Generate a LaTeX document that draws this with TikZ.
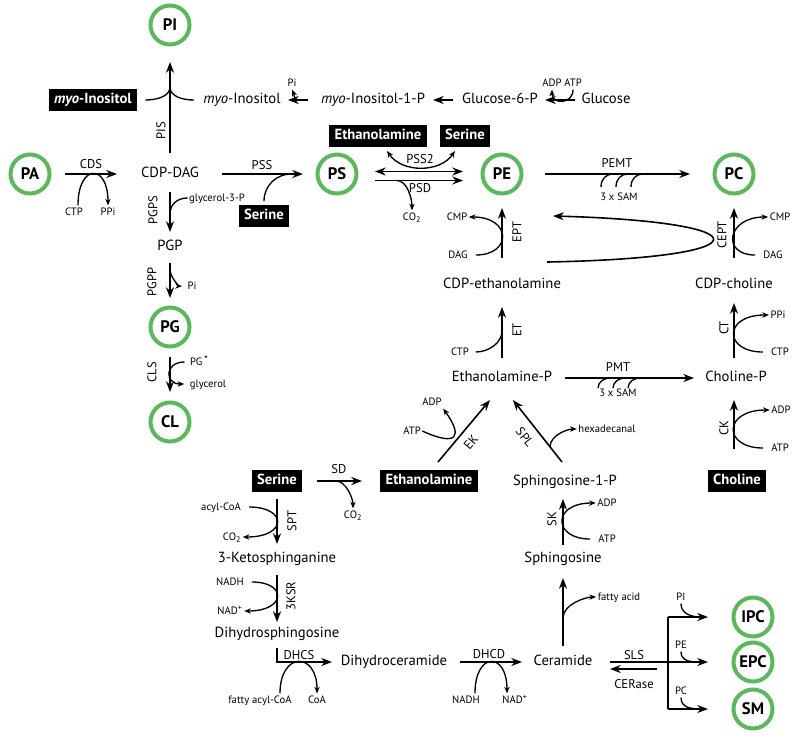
\documentclass[tikz,border=0pt]{standalone}
\usepackage{fontspec}
\setmainfont{PT Sans}
\usepackage{tikz}
\usetikzlibrary{arrows.meta,calc}
\definecolor{poolgreen}{RGB}{92,184,92}
\tikzset{
  pool/.style={circle, draw=poolgreen, line width=3pt, minimum size=29.25pt, inner sep=0pt, font=\fontsize{12.5}{14}\selectfont\bfseries},
  met/.style={inner sep=1pt, text height=7.7pt, text depth=2.2pt, font=\fontsize{11}{13}\selectfont},
  extbox/.style={fill=black, text=white, inner xsep=4pt, inner ysep=0pt, minimum height=16pt, text height=8pt, text depth=2.3pt, font=\fontsize{11}{13}\selectfont\bfseries},
  enz/.style={inner sep=1pt, font=\fontsize{9.5}{11}\selectfont},
  cof/.style={inner sep=1pt, text height=6pt, text depth=1.5pt, font=\fontsize{8}{9.5}\selectfont},
  arr/.style={line width=1.2pt, -{Stealth[length=8pt,width=6pt,inset=2.5pt]}},
  arrboth/.style={line width=1.2pt, {Stealth[length=8pt,width=6pt,inset=2.5pt]}-{Stealth[length=8pt,width=6pt,inset=2.5pt]}},
  side/.style={line width=1pt, -{Stealth[length=5pt,width=4pt,inset=1.5pt]}},
  sideboth/.style={line width=1pt, {Stealth[length=5pt,width=4pt,inset=1.5pt]}-{Stealth[length=5pt,width=4pt,inset=1.5pt]}},
  hook/.style={line width=1pt},
}
\begin{document}
\begin{tikzpicture}[x=0.75pt,y=0.75pt,yscale=-1,xscale=1]
\useasboundingbox (0,0) rectangle (800,739);
% Lipid pools
\node[pool] (PI) at (170,25) {PI};
\node[pool] (PA) at (30,174) {PA};
\node[pool] (PS) at (337,174) {PS};
\node[pool] (PE) at (502,174) {PE};
\node[pool] (PC) at (734,174) {PC};
\node[pool] (PG) at (170,327) {PG};
\node[pool] (CL) at (170,422) {CL};
\node[pool] (IPC) at (753,617) {IPC};
\node[pool] (EPC) at (753,662) {EPC};
\node[pool] (SM) at (753,709) {SM};
% Metabolites
\node[met] (cdpdag) at (170,174) {CDP-DAG};
\node[met] (pgp) at (170,247) {PGP};
\node[met] (ino) at (242,100) {\textit{myo}-Inositol};
\node[met] (inop) at (373,100) {\textit{myo}-Inositol-1-P};
\node[met] (g6p) at (500,100) {Glucose-6-P};
\node[met] (glc) at (606,100) {Glucose};
\node[met] (cdpetn) at (502,285) {CDP-ethanolamine};
\node[met] (cdpcho) at (734,285) {CDP-choline};
\node[met] (etnp) at (502,378) {Ethanolamine-P};
\node[met] (chop) at (736,378) {Choline-P};
\node[met] (s1p) at (565,482) {Sphingosine-1-P};
\node[met] (sph) at (563,559) {Sphingosine};
\node[met] (cer) at (563,662) {Ceramide};
\node[met] (dhcer) at (394,662) {Dihydroceramide};
\node[met] (dhsph) at (277,634) {Dihydrosphingosine};
\node[met] (ksph) at (277,559) {3-Ketosphinganine};
% Black boxes
\node[extbox] (inobox) at (93,100) {\textit{myo}-Inositol};
\node[extbox] (serA) at (264,216) {Serine};
\node[extbox] (etnA) at (378,136) {Ethanolamine};
\node[extbox] (serB) at (465,136) {Serine};
\node[extbox] (serC) at (277,481) {Serine};
\node[extbox] (etnC) at (429,481) {Ethanolamine};
\node[extbox] (choC) at (737,481) {Choline};
% Enzymes
\node[enz] (CDS) at (91,164) {CDS};
\node[enz] (PSS) at (262,165) {PSS};
\node[enz, rotate=90] (PIS) at (161,131) {PIS};
\node[enz, rotate=90] (PGPS) at (153,210) {PGPS};
\node[enz, rotate=90] (PGPP) at (152,282) {PGPP};
\node[enz, rotate=90] (CLS) at (152,372) {CLS};
\node[enz] (PSStwo) at (420,159) {PSS2};
\node[enz] (PSD) at (420,188) {PSD};
\node[enz] (PEMT) at (617,163) {PEMT};
\node[enz, rotate=90] (EPT) at (517,232) {EPT};
\node[enz, rotate=90] (CEPT) at (722,235) {CEPT};
\node[enz, rotate=90] (ET) at (517,330) {ET};
\node[enz, rotate=90] (CT) at (724,328) {CT};
\node[enz] (PMT) at (618,367) {PMT};
\node[enz, rotate=90] (CK) at (724,428) {CK};
\node[enz, rotate=50] (EK) at (471,442) {EK};
\node[enz, rotate=-52] (SPL) at (525,437) {SPL};
\node[enz, rotate=90] (SK) at (552,519) {SK};
\node[enz] (SD) at (339,469) {SD};
\node[enz, rotate=90] (SPT) at (292,521) {SPT};
\node[enz, rotate=90] (KSR) at (291,596) {3KSR};
\node[enz] (DHCS) at (299,655) {DHCS};
\node[enz] (DHCD) at (489,654) {DHCD};
\node[enz] (SLS) at (634,655) {SLS};
\node[enz] (CERase) at (634,684) {CERase};
% Cofactors
\node[cof] (ctp1) at (74,212) {CTP};
\node[cof] (ppi1) at (108,212) {PPi};
\node[cof] (glyc1) at (217,198) {glycerol-3-P};
\node[cof] (pi2) at (192,286) {Pi};
\node[cof] (pgs) at (199,362) {PG\,\raisebox{1.5pt}{*}};
\node[cof] (glyc2) at (208,384) {glycerol};
\node[cof] (pi1) at (292,83) {Pi};
\node[cof] (adp1) at (552,83) {ADP};
\node[cof] (atp1) at (573,83) {ATP};
\node[cof] (co2a) at (412,217) {CO\textsubscript{2}};
\node[cof] (sam1) at (619,197) {3 x SAM};
\node[cof] (cmp1) at (457,217) {CMP};
\node[cof] (dag1) at (458,255) {DAG};
\node[cof] (cmp2) at (780,217) {CMP};
\node[cof] (dag2) at (773,255) {DAG};
\node[cof] (ctp2) at (460,352) {CTP};
\node[cof] (ppi2) at (778,315) {PPi};
\node[cof] (ctp3) at (780,352) {CTP};
\node[cof] (sam2) at (618,393) {3 x SAM};
\node[cof] (adp2) at (781,410) {ADP};
\node[cof] (atp2) at (780,448) {ATP};
\node[cof] (adp3) at (432,402) {ADP};
\node[cof] (atp3) at (412,431) {ATP};
\node[cof] (hexa) at (607,429) {hexadecanal};
\node[cof] (adp4) at (607,503) {ADP};
\node[cof] (atp4) at (607,539) {ATP};
\node[cof] (fa) at (619,597) {fatty acid};
\node[cof] (acoa) at (221,507) {acyl-CoA};
\node[cof] (co2b) at (232,537) {CO\textsubscript{2}};
\node[cof] (nadh1) at (230,582) {NADH};
\node[cof] (nadp1) at (230,611) {NAD\textsuperscript{+}};
\node[cof] (co2c) at (353,515) {CO\textsubscript{2}};
\node[cof] (fac) at (260,700) {fatty acyl-CoA};
\node[cof] (coa) at (317,700) {CoA};
\node[cof] (nadh2) at (466,700) {NADH};
\node[cof] (nadp2) at (515,700) {NAD\textsuperscript{+}};
\node[cof] (pil) at (681,597) {PI};
\node[cof] (pel) at (681,645) {PE};
\node[cof] (pcl) at (681,691) {PC};
% Junction points
\coordinate (pisJ) at (170,87);
\coordinate (pssJ) at (291,174);
\coordinate (pgpsJ) at (170,214);
\coordinate (pgppJ) at (170,269);
\coordinate (piJ) at (301,100);
\coordinate (psdJ) at (397,180.5);
\coordinate (etJ) at (502,331);
\coordinate (splJ) at (550,447);
\coordinate (faJ) at (563,618);
\coordinate (sdJ) at (336,481);
\coordinate (br) at (668,662);
\coordinate (ipcJ) at (701,617);
\coordinate (epcJ) at (701,662);
\coordinate (smJ) at (701,709);
\coordinate (loopS) at (547,262);
\coordinate (loopE) at (553,216);
% Reactions
\draw[arr, shorten <=26.25pt, shorten >=39.75pt] (PA.center) -- (cdpdag.center);
\draw[arr, shorten <=15.75pt, shorten >=27.75pt] (cdpdag.center) -- (PI.center);
\draw[arr, shorten <=39pt, shorten >=25.5pt] (cdpdag.center) -- (PS.center);
\draw[arr, shorten <=13.5pt, shorten >=11.25pt] (cdpdag.center) -- (pgp.center);
\draw[arr, shorten <=12pt, shorten >=21.75pt] (pgp.center) -- (PG.center);
\draw[arr, shorten <=22.5pt, shorten >=22.5pt] (PG.center) -- (CL.center);
\draw[arr, shorten <=48.75pt, shorten >=34.5pt] (inop.center) -- (ino.center);
\draw[arr, shorten <=35.25pt, shorten >=45pt] (g6p.center) -- (inop.center);
\draw[arr, shorten <=23.25pt, shorten >=33.75pt] (glc.center) -- (g6p.center);
\draw[arrboth, shorten <=28.5pt, shorten >=29.25pt] ($(PS.center)+(0,-2.5)$) -- ($(PE.center)+(0,-2.5)$);
\draw[arr, shorten <=28.5pt, shorten >=29.25pt] ($(PS.center)+(0,6.5)$) -- ($(PE.center)+(0,6.5)$);
\draw[arr, shorten <=32.25pt, shorten >=33pt] (PE.center) -- (PC.center);
\draw[arr, shorten <=20.25pt, shorten >=25.5pt] (cdpetn.center) -- (PE.center);
\draw[arr, shorten <=20.25pt, shorten >=25.5pt] (cdpcho.center) -- (PC.center);
\draw[arr, shorten <=15pt, shorten >=16.5pt] (etnp.center) -- (cdpetn.center);
\draw[arr, shorten <=15pt, shorten >=13.5pt] (chop -| cdpcho) -- (cdpcho.center);
\draw[arr, shorten <=47.25pt, shorten >=31.5pt] (etnp.center) -- (chop.center);
\draw[arr, shorten <=24pt, shorten >=16.5pt] (choC -| cdpcho) -- (chop -| cdpcho);
\draw[arr] ($(etnC.center)+(9,-19)$) -- ($(etnp.center)+(-12,22)$);
\draw[arr] ($(s1p.center)+(-3,-20)$) -- ($(etnp.center)+(11,22)$);
\draw[arr, shorten <=10.5pt, shorten >=12.75pt] (sph.center) -- (sph |- s1p);
\draw[arr, shorten <=12pt, shorten >=14.25pt] (cer.center) -- (sph.center);
\draw[arr, shorten <=49.5pt, shorten >=30.75pt] (dhcer.center) -- (cer.center);
\draw[arr, shorten <=10.5pt, shorten >=46.5pt] (dhsph.center) |- (dhcer.center);
\draw[arr, shorten <=13.5pt, shorten >=11.25pt] (serC.center) -- (ksph.center);
\draw[arr, shorten <=12pt, shorten >=9pt] (ksph.center) -- (dhsph.center);
\draw[arr, shorten <=30pt, shorten >=50.25pt] (serC.center) -- (etnC.center);
\draw[arr, shorten <=35.25pt, shorten >=33.75pt] (cer.center) -- (EPC.center);
\draw[arr] ($(cer.center)+(94,7)$) -- ($(cer.center)+(47,7)$);
\draw[hook, line width=1.2pt] (br |- IPC) -- (br |- SM);
\draw[arr, shorten >=33.75pt] (br |- IPC) -- (IPC.center);
\draw[arr, shorten >=33.75pt] (br |- SM) -- (SM.center);
% Loop back to PE
\draw[arr] (loopS) .. controls (767,258) and (767,222) .. (loopE);
% Side substrates and products
\draw[side] ($(ctp1.north)+(4,0)$) .. controls +(0,-42) and +(0,-42) .. (ppi1.north);
\draw[hook, shorten <=3pt] (serA.north) .. controls +(0,-20) and +(-14,0) .. (pssJ);
\draw[hook, shorten <=6pt] (inobox.east) .. controls +(18,0) and +(0,10) .. (pisJ);
\draw[hook, shorten <=6pt] (ino.west) .. controls +(-18,0) and +(0,10) .. (pisJ);
\draw[hook] (glyc1.west) .. controls +(-10,0) and +(0,-10) .. (pgpsJ);
\draw[side, shorten >=3pt] (pgppJ) .. controls +(0,9) and +(-6,0) .. (pi2.west);
\draw[side, shorten <=3pt, shorten >=3pt] (pgs.west) .. controls +(-24,0) and +(-24,0) .. (glyc2.west);
\draw[side] (piJ) .. controls +(-8,0) and +(3,7) .. (pi1.south);
\draw[side] (atp1.south) .. controls +(0,15) and +(0,15) .. (adp1.south);
\draw[side] (psdJ) .. controls +(10,0) and +(0,-12) .. (co2a.north);
\draw[sideboth] ($(etnA.south)+(9,4)$) .. controls +(15,22) and +(-15,22) .. ($(serB.south)+(-10,4)$);
\foreach \dx in {0,15,30}
  \draw[hook] ($(sam1.center)+(\dx-18,-10)$) .. controls +(0,-8) and +(-7,0) .. ($(sam1.center)+(\dx-6,-23)$);
\foreach \dx in {0,15,30}
  \draw[hook] ($(sam2.center)+(\dx-20,-5)$) .. controls +(0,-6) and +(-6,0) .. ($(sam2.center)+(\dx-8,-15)$);
\draw[side, shorten <=5pt] (dag1.east) .. controls +(43,0) and +(43,0) .. (cmp1.east);
\draw[side, shorten <=5pt] (dag2.west) .. controls +(-41,0) and +(-41,0) .. (cmp2.west);
\draw[hook, shorten <=4pt] (ctp2.east) .. controls +(18,0) and +(0,12) .. (etJ);
\draw[side, shorten <=5pt] (ctp3.west) .. controls +(-46,0) and +(-46,0) .. (ppi2.west);
\draw[side, shorten <=5pt] (atp2.west) .. controls +(-47,0) and +(-47,0) .. (adp2.west);
\draw[side] (atp3.east) .. controls +(35,16) and +(20,28) .. (adp3.south east);
\draw[side] (splJ) .. controls +(0,-12) and +(-9,0) .. (hexa.west);
\draw[side, shorten <=5pt] (atp4.west) .. controls +(-44,0) and +(-44,0) .. (adp4.west);
\draw[side] (faJ) .. controls +(0,-14) and +(-10,0) .. (fa.west);
\draw[side] (sdJ) .. controls +(10,0) and +(0,-10) .. (co2c.north);
\draw[side, shorten <=5pt] (acoa.east) .. controls +(45,0) and +(45,0) .. (co2b.east);
\draw[side, shorten <=5pt] (nadh1.east) .. controls +(42,0) and +(42,0) .. (nadp1.east);
\draw[side] ($(fac.north)+(20,0)$) .. controls +(0,-42) and +(0,-42) .. (coa.north);
\draw[side] ($(nadh2.north)+(9,0)$) .. controls +(0,-42) and +(0,-42) .. ($(nadp2.north)+(-8,0)$);
\draw[hook] (pil.south) .. controls +(0,10) and +(-10,0) .. (ipcJ);
\draw[hook] (pel.south) .. controls +(0,10) and +(-10,0) .. (epcJ);
\draw[hook] (pcl.south) .. controls +(0,10) and +(-10,0) .. (smJ);
\end{tikzpicture}
\end{document}
